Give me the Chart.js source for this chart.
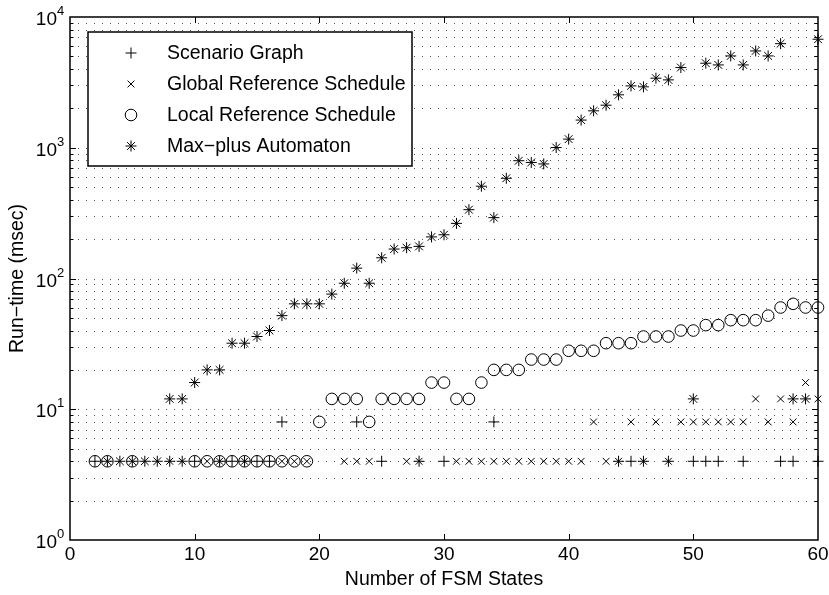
<!DOCTYPE html>
<html lang="en">
<head>
  <meta charset="UTF-8">
  <title>Run-time vs Number of FSM States</title>
  <script src="https://cdn.jsdelivr.net/npm/chart.js"></script>
  <style>
    html, body { margin: 0; padding: 0; background: #fff; }
  </style>
</head>
<body>
  <canvas id="runtimeChart" width="829" height="595"></canvas>

  <script>
    // Scenario Graph (+)
    const scenarioX = [2, 8, 9, 10, 12, 13, 14, 15, 16, 17, 23, 25, 28, 30, 34, 44, 45, 46, 48, 50, 51, 52, 54, 57, 58, 60];
    const scenarioY = [4, 4, 4, 4, 4, 4, 4, 4, 4, 8, 8, 4, 4, 4, 8, 4, 4, 4, 4, 4, 4, 4, 4, 4, 4, 4];

    // Global Reference Schedule (x)
    const globalX = [8, 9, 11, 12, 14, 17, 18, 19, 22, 23, 24, 27, 28, 31, 32, 33, 34, 35, 36, 37, 38, 39, 40, 41, 42, 43, 44, 45, 46, 47, 48, 49, 50, 51, 52, 53, 54, 55, 56, 57, 58, 59, 60];
    const globalY = [4, 4, 4, 4, 4, 4, 4, 4, 4, 4, 4, 4, 4, 4, 4, 4, 4, 4, 4, 4, 4, 4, 4, 4, 8, 4, 4, 8, 4, 8, 4, 8, 8, 8, 8, 8, 8, 12, 8, 12, 8, 16, 12];

    // Local Reference Schedule (o)
    const localX = [2, 3, 5, 10, 11, 12, 13, 14, 15, 16, 17, 18, 19, 20, 21, 22, 23, 24, 25, 26, 27, 28, 29, 30, 31, 32, 33, 34, 35, 36, 37, 38, 39, 40, 41, 42, 43, 44, 45, 46, 47, 48, 49, 50, 51, 52, 53, 54, 55, 56, 57, 58, 59, 60];
    const localY = [4, 4, 4, 4, 4, 4, 4, 4, 4, 4, 4, 4, 4, 8, 12, 12, 12, 8, 12, 12, 12, 12, 16, 16, 12, 12, 16, 20, 20, 20, 24, 24, 24, 28, 28, 28, 32, 32, 32, 36, 36, 36, 40, 40, 44, 44, 48, 48, 48, 52, 60, 64, 60, 60];

    // Max-plus Automaton (*)
    const maxplusX = [3, 4, 5, 6, 7, 8, 9, 10, 11, 12, 13, 14, 15, 16, 17, 18, 19, 20, 21, 22, 23, 24, 25, 26, 27, 28, 29, 30, 31, 32, 33, 34, 35, 36, 37, 38, 39, 40, 41, 42, 43, 44, 45, 46, 47, 48, 49, 50, 51, 52, 53, 54, 55, 56, 57, 58, 59, 60];
    const maxplusY = [4, 4, 4, 4, 4, 12, 12, 16, 20, 20, 32, 32, 36, 40, 52, 64, 64, 64, 76, 92, 120, 92, 144, 168, 172, 176, 208, 216, 264, 336, 508, 292, 584, 796, 772, 752, 1004, 1164, 1628, 1916, 2116, 2540, 2972, 2924, 3404, 3304, 4104, 12, 4432, 4300, 5040, 4300, 5500, 5040, 6252, 12, 12, 6760];

    const xTicks = [0, 10, 20, 30, 40, 50, 60];
    const yExponents = [0, 1, 2, 3, 4];

    const FONT = '"Liberation Sans", Arial, Helvetica, sans-serif';

    const toPoints = (xs, ys) => xs.map((x, i) => ({ x, y: ys[i] }));

    const series = [
      { label: 'Scenario Graph', style: 'cross', radius: 5.5, xs: scenarioX, ys: scenarioY },
      { label: 'Global Reference Schedule', style: 'crossRot', radius: 4.8, xs: globalX, ys: globalY },
      { label: 'Local Reference Schedule', style: 'circle', radius: 5.8, xs: localX, ys: localY },
      { label: 'Max\u2212plus Automaton', style: 'star', radius: 5.5, xs: maxplusX, ys: maxplusY },
    ];

    function drawMarker(ctx, style, cx, cy, r) {
      ctx.beginPath();
      if (style === 'cross' || style === 'star') {
        ctx.moveTo(cx - r, cy); ctx.lineTo(cx + r, cy);
        ctx.moveTo(cx, cy - r); ctx.lineTo(cx, cy + r);
      }
      if (style === 'crossRot' || style === 'star') {
        const d = r * Math.SQRT1_2;
        ctx.moveTo(cx - d, cy - d); ctx.lineTo(cx + d, cy + d);
        ctx.moveTo(cx - d, cy + d); ctx.lineTo(cx + d, cy - d);
      }
      if (style === 'circle') ctx.arc(cx, cy, r, 0, Math.PI * 2);
      ctx.stroke();
    }

    // matlab-like axes: dotted y grid, boxed axes, inward ticks, legend
    const matlabAxes = {
      id: 'matlabAxes',
      beforeDatasetsDraw(chart) {
        const { ctx, chartArea: a, scales: { y } } = chart;
        ctx.save();
        ctx.strokeStyle = '#555';
        ctx.lineWidth = 1;
        ctx.setLineDash([1, 7]);
        for (let e = 0; e < 4; e++) {
          for (let k = 1; k < 10; k++) {
            const v = k * Math.pow(10, e);
            if (v <= 1) continue;
            const py = Math.round(y.getPixelForValue(v)) + 0.5;
            ctx.beginPath();
            ctx.moveTo(a.left + 8, py);
            ctx.lineTo(a.right, py);
            ctx.stroke();
          }
        }
        ctx.restore();
      },
      afterDatasetsDraw(chart) {
        const { ctx, chartArea: a, scales: { x, y } } = chart;
        ctx.save();
        ctx.strokeStyle = '#000';
        ctx.fillStyle = '#000';

        // ticks
        ctx.lineWidth = 1;
        ctx.beginPath();
        xTicks.forEach(t => {
          if (t === 0 || t === 60) return;
          const px = Math.round(x.getPixelForValue(t)) + 0.5;
          ctx.moveTo(px, a.bottom); ctx.lineTo(px, a.bottom - 6);
          ctx.moveTo(px, a.top); ctx.lineTo(px, a.top + 6);
        });
        for (let e = 0; e < 4; e++) {
          for (let k = 1; k < 10; k++) {
            const v = k * Math.pow(10, e);
            if (v <= 1) continue;
            const len = k === 1 ? 6 : 3.5;
            const py = Math.round(y.getPixelForValue(v)) + 0.5;
            ctx.moveTo(a.left, py); ctx.lineTo(a.left + len, py);
            ctx.moveTo(a.right, py); ctx.lineTo(a.right - len, py);
          }
        }
        ctx.stroke();

        // axes box
        ctx.lineWidth = 1.5;
        ctx.strokeRect(a.left, a.top, a.right - a.left, a.bottom - a.top);

        // x tick labels
        ctx.font = '19px ' + FONT;
        ctx.textAlign = 'center';
        ctx.textBaseline = 'alphabetic';
        xTicks.forEach(t => {
          ctx.fillText(String(t), x.getPixelForValue(t), a.bottom + 20);
        });

        // y tick labels 10^n
        yExponents.forEach(e => {
          const py = y.getPixelForValue(Math.pow(10, e));
          ctx.font = '19px ' + FONT;
          ctx.textAlign = 'right';
          ctx.fillText('10', a.left - 13, py + 8);
          ctx.font = '13px ' + FONT;
          ctx.textAlign = 'left';
          ctx.fillText(String(e), a.left - 13, py - 2);
        });

        // axis titles
        ctx.font = '19.5px ' + FONT;
        ctx.textAlign = 'center';
        ctx.fillText('Number of FSM States', (a.left + a.right) / 2, a.bottom + 45);
        ctx.save();
        ctx.translate(23, (a.top + a.bottom) / 2);
        ctx.rotate(-Math.PI / 2);
        ctx.fillText('Run\u2212time (msec)', 0, 0);
        ctx.restore();

        // legend
        const lx = 88, ly = 32, lw = 324, lh = 134;
        ctx.fillStyle = '#fff';
        ctx.fillRect(lx, ly, lw, lh);
        ctx.lineWidth = 1.5;
        ctx.strokeRect(lx, ly, lw, lh);
        ctx.fillStyle = '#000';
        ctx.font = '19.5px ' + FONT;
        ctx.textAlign = 'left';
        ctx.textBaseline = 'middle';
        ctx.lineWidth = 1;
        series.forEach((s, i) => {
          const cy = 53 + i * 31;
          drawMarker(ctx, s.style, 131, cy, s.radius);
          ctx.fillText(s.label, 167, cy + 1);
        });
        ctx.restore();
      }
    };

    const ctx = document.getElementById('runtimeChart').getContext('2d');
    new Chart(ctx, {
      type: 'scatter',
      data: {
        datasets: series.map(s => ({
          label: s.label,
          data: toPoints(s.xs, s.ys),
          pointStyle: s.style,
          pointRadius: s.radius,
          pointHoverRadius: s.radius,
          borderColor: '#000',
          backgroundColor: 'rgba(0,0,0,0)',
          borderWidth: 1,
          clip: false,
        })),
      },
      options: {
        responsive: false,
        animation: false,
        devicePixelRatio: 1,
        layout: { padding: { left: 70, right: 11, top: 17, bottom: 55 } },
        scales: {
          x: { type: 'linear', min: 0, max: 60, display: false },
          y: { type: 'logarithmic', min: 1, max: 10000, display: false },
        },
        plugins: {
          legend: { display: false },
          tooltip: { enabled: false },
        },
      },
      plugins: [matlabAxes],
    });
  </script>
</body>
</html>
